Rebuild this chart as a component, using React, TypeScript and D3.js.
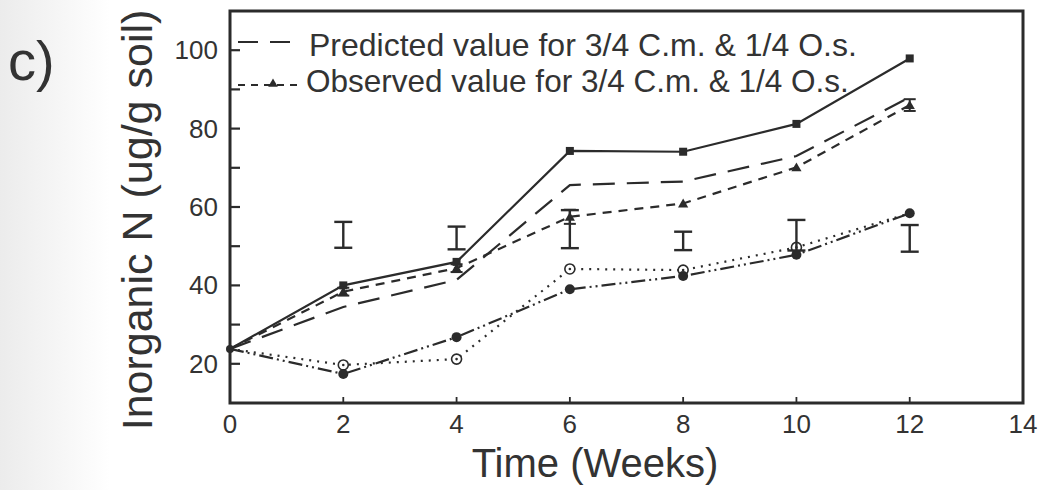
import React from 'react';
import * as d3 from 'd3';

// weeks after incorporation
const weeks = [0, 2, 4, 6, 8, 10, 12];

// inorganic N (ug/g soil)
const solidSeries = [23.8, 40, 46, 74.3, 74.1, 81.2, 97.9];
const predicted = [23.8, 34.5, 41.4, 65.6, 66.5, 73, 88];
const observed = [23.8, 38.4, 44.4, 57.5, 60.9, 70.1, 86];
const observedErr = [0, 1, 1, 1.8, 0, 0, 1.5];
const dottedSeries = [23.8, 19.7, 21.2, 44.2, 43.9, 49.7, 58.4];
const dashDotSeries = [23.8, 17.4, 26.8, 39, 42.4, 47.8, 58.4];

// standalone LSD bars
const barWeeks = [2, 4, 6, 8, 10, 12];
const barLow = [49.6, 49.2, 49.5, 49, 48.9, 48.6];
const barHigh = [56.2, 55, 59.2, 53.7, 56.7, 55.4];

const xTicks = [0, 2, 4, 6, 8, 10, 12, 14];
const yTicks = [20, 40, 60, 80, 100];
const yMinor = [30, 50, 70, 90];

const legendLabels = [
  'Predicted value for 3/4 C.m. & 1/4 O.s.',
  'Observed value for 3/4 C.m. & 1/4 O.s.',
];

const ink = '#2b2b2b';
const font = '"Liberation Sans", Arial, Helvetica, sans-serif';

export default function App() {
  const left = 230, right = 1023, top = 11, bottom = 403;
  const x = d3.scaleLinear().domain([0, 14]).range([left, right]);
  const y = d3.scaleLinear().domain([10, 110]).range([bottom, top]);

  const line = d3.line<number>()
    .x((_, i) => x(weeks[i]))
    .y((d) => y(d));

  const lineStyle = { fill: 'none', stroke: ink, strokeWidth: 2.2 };

  return (
    <svg width={1044} height={490} style={{ position: 'absolute', left: 0, top: 0, background: '#fff' }}>
      <defs>
        <linearGradient id="scan" x1="0" x2="1" y1="0" y2="0">
          <stop offset="0" stopColor="#d8d8d8" />
          <stop offset="1" stopColor="#ffffff" />
        </linearGradient>
      </defs>
      <rect x={0} y={0} width={110} height={490} fill="url(#scan)" opacity={0.5} />

      <text x={8} y={80} fontFamily={font} fontSize={56} fill="#333">c)</text>

      {/* frame */}
      <rect x={left} y={top} width={right - left} height={bottom - top}
        fill="none" stroke={ink} strokeWidth={3} />

      {/* y ticks */}
      {yTicks.concat(yMinor).map((v) => (
        <line key={`yt${v}`} x1={left} x2={left + 10} y1={y(v)} y2={y(v)} stroke={ink} strokeWidth={2.2} />
      ))}
      {yTicks.map((v) => (
        <text key={`yl${v}`} x={218} y={y(v) + 9} textAnchor="end" fontFamily={font} fontSize={26} fill="#333">{v}</text>
      ))}

      {/* x ticks */}
      {xTicks.map((t) => (
        <g key={`xt${t}`}>
          {t > 0 && t < 14 && (
            <line x1={x(t)} x2={x(t)} y1={bottom} y2={bottom - 6} stroke={ink} strokeWidth={1.8} />
          )}
          <text x={x(t)} y={433} textAnchor="middle" fontFamily={font} fontSize={26} fill="#333">{t}</text>
        </g>
      ))}

      <text x={595} y={477} textAnchor="middle" fontFamily={font} fontSize={40} fill="#333">Time (Weeks)</text>
      <text transform="translate(152,220) rotate(-90)" textAnchor="middle" fontFamily={font} fontSize={43} fill="#333">
        Inorganic N (ug/g soil)
      </text>

      {/* legend */}
      <line x1={238} x2={292} y1={42} y2={42} stroke={ink} strokeWidth={2.2} strokeDasharray="20 12" />
      <text x={309} y={56} fontFamily={font} fontSize={32} fill="#333">{legendLabels[0]}</text>
      <line x1={238} x2={300} y1={85} y2={85} stroke={ink} strokeWidth={2.2} strokeDasharray="7 6" />
      <path d={d3.symbol(d3.symbolTriangle, 40)() || ''} transform="translate(273,84)" fill={ink} />
      <text x={306} y={92} fontFamily={font} fontSize={31.5} fill="#333">{legendLabels[1]}</text>

      {/* series lines */}
      <path d={line(solidSeries) || ''} {...lineStyle} />
      <path d={line(predicted) || ''} {...lineStyle} strokeDasharray="22 12" />
      <path d={line(observed) || ''} {...lineStyle} strokeDasharray="9 7" />
      <path d={line(dottedSeries) || ''} {...lineStyle} strokeDasharray="2 6" />
      <path d={line(dashDotSeries) || ''} {...lineStyle} strokeDasharray="14 4 2 4 2 4" />

      {/* markers */}
      {weeks.map((t, i) => i > 0 && (
        <g key={`m${t}`}>
          <rect x={x(t) - 4} y={y(solidSeries[i]) - 4} width={8} height={8} fill={ink} />
          <path d={d3.symbol(d3.symbolTriangle, 45)() || ''} transform={`translate(${x(t)},${y(observed[i]) + 1})`} fill={ink} />
          {observedErr[i] > 0 && (
            <g stroke={ink} strokeWidth={2}>
              <line x1={x(t)} x2={x(t)} y1={y(observed[i] + observedErr[i])} y2={y(observed[i] - observedErr[i])} />
              <line x1={x(t) - 6} x2={x(t) + 6} y1={y(observed[i] + observedErr[i])} y2={y(observed[i] + observedErr[i])} />
              <line x1={x(t) - 6} x2={x(t) + 6} y1={y(observed[i] - observedErr[i])} y2={y(observed[i] - observedErr[i])} />
            </g>
          )}
          {i < 6 && (
            <g>
              <circle cx={x(t)} cy={y(dottedSeries[i])} r={5} fill="#fff" stroke={ink} strokeWidth={1.6} />
              <circle cx={x(t)} cy={y(dottedSeries[i])} r={1.3} fill={ink} />
            </g>
          )}
          <circle cx={x(t)} cy={y(dashDotSeries[i])} r={5} fill={ink} />
        </g>
      ))}
      <circle cx={x(0)} cy={y(dashDotSeries[0])} r={4} fill={ink} />

      {/* LSD bars */}
      {barWeeks.map((t, i) => (
        <g key={`b${t}`} stroke={ink} strokeWidth={2.4}>
          <line x1={x(t)} x2={x(t)} y1={y(barHigh[i])} y2={y(barLow[i])} />
          <line x1={x(t) - 9} x2={x(t) + 9} y1={y(barHigh[i])} y2={y(barHigh[i])} />
          <line x1={x(t) - 9} x2={x(t) + 9} y1={y(barLow[i])} y2={y(barLow[i])} />
        </g>
      ))}
    </svg>
  );
}
